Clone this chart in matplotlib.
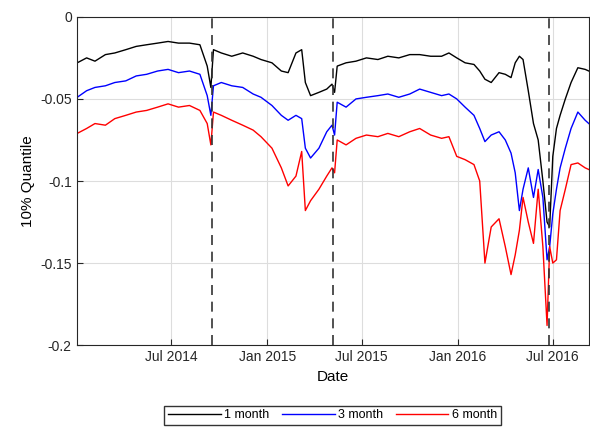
import numpy as np
import pandas as pd
import matplotlib; matplotlib.use('Agg')
import matplotlib.pyplot as plt
import matplotlib.dates as mdates

plt.rcParams.update({'font.family': 'Liberation Sans', 'font.size': 10})

dates = pd.to_datetime([
    '2014-01-02', '2014-01-20', '2014-02-05', '2014-02-25', '2014-03-15', '2014-04-05', '2014-04-25',
    '2014-05-15', '2014-06-05', '2014-06-25', '2014-07-15', '2014-08-05', '2014-08-25', '2014-09-08',
    '2014-09-15', '2014-09-20', '2014-10-05', '2014-10-25', '2014-11-15', '2014-12-05', '2014-12-20',
    '2015-01-10', '2015-01-28', '2015-02-10', '2015-02-25', '2015-03-08', '2015-03-15', '2015-03-25',
    '2015-04-10', '2015-04-25', '2015-05-05', '2015-05-10', '2015-05-15', '2015-06-01', '2015-06-20',
    '2015-07-10', '2015-08-01', '2015-08-20', '2015-09-10', '2015-10-01', '2015-10-20', '2015-11-10',
    '2015-12-01', '2015-12-15', '2015-12-30', '2016-01-15', '2016-02-01', '2016-02-12', '2016-02-22',
    '2016-03-05', '2016-03-20', '2016-04-01', '2016-04-12', '2016-04-20', '2016-04-28', '2016-05-05',
    '2016-05-15', '2016-05-25', '2016-06-03', '2016-06-12', '2016-06-20', '2016-06-25', '2016-07-01',
    '2016-07-08', '2016-07-15', '2016-07-25', '2016-08-05', '2016-08-18', '2016-09-01', '2016-09-08'])

q1m = [-.028, -.025, -.027, -.023, -.022, -.020, -.018, -.017, -.016, -.015, -.016, -.016, -.017, -.030,
       -.043, -.020, -.022, -.024, -.022, -.024, -.026, -.028, -.033, -.034, -.022, -.020, -.040, -.048,
       -.046, -.044, -.041, -.046, -.030, -.028, -.027, -.025, -.026, -.024, -.025, -.023, -.023, -.024,
       -.024, -.022, -.025, -.028, -.029, -.033, -.038, -.040, -.034, -.035, -.037, -.028, -.024, -.026,
       -.045, -.065, -.075, -.100, -.125, -.128, -.085, -.068, -.060, -.050, -.040, -.031, -.032, -.033]
q3m = [-.049, -.045, -.043, -.042, -.040, -.039, -.036, -.035, -.033, -.032, -.034, -.033, -.035, -.048,
       -.060, -.042, -.040, -.042, -.043, -.047, -.049, -.054, -.060, -.063, -.060, -.062, -.080, -.086,
       -.080, -.070, -.066, -.072, -.052, -.055, -.050, -.049, -.048, -.047, -.049, -.047, -.044, -.046,
       -.048, -.047, -.050, -.055, -.060, -.068, -.076, -.072, -.070, -.075, -.083, -.095, -.118, -.105,
       -.092, -.110, -.093, -.110, -.148, -.140, -.120, -.105, -.092, -.080, -.068, -.058, -.063, -.065]
q6m = [-.071, -.068, -.065, -.066, -.062, -.060, -.058, -.057, -.055, -.053, -.055, -.054, -.057, -.065,
       -.078, -.058, -.060, -.063, -.066, -.069, -.073, -.080, -.092, -.103, -.097, -.082, -.118, -.112,
       -.105, -.097, -.092, -.095, -.075, -.078, -.074, -.072, -.073, -.071, -.073, -.070, -.068, -.072,
       -.074, -.073, -.085, -.087, -.090, -.100, -.150, -.128, -.123, -.140, -.157, -.145, -.130, -.110,
       -.125, -.138, -.105, -.140, -.188, -.140, -.150, -.148, -.118, -.105, -.090, -.089, -.092, -.093]
events = pd.to_datetime(['2014-09-18', '2015-05-07', '2016-06-23'])

fig = plt.figure(figsize=(5.9, 4.32), dpi=100)
ax = fig.add_axes([0.13, 0.201, 0.868, 0.76])
ax.plot(dates, q1m, color='black', lw=1, label='1 month')
ax.plot(dates, q3m, color='blue', lw=1, label='3 month')
ax.plot(dates, q6m, color='red', lw=1, label='6 month')
for d in events:
    ax.axvline(d, color='#333333', ls=(0, (6, 4)), lw=1.2)

ax.set_xlim(pd.Timestamp('2014-01-01'), pd.Timestamp('2016-09-08'))
ax.set_ylim(-0.2, 0)
ax.set_yticks([-0.2, -0.15, -0.1, -0.05, 0])
ax.set_yticklabels(['-0.2', '-0.15', '-0.1', '-0.05', '0'])
ax.xaxis.set_major_locator(mdates.MonthLocator(bymonth=[1, 7]))
ax.xaxis.set_major_formatter(mdates.DateFormatter('%b %Y'))
ax.set_xticks([t for t in ax.get_xticks() if t > mdates.date2num(pd.Timestamp('2014-02-01'))])
ax.grid(True, color='#dddddd', lw=0.8)
ax.tick_params(direction='in', length=4, colors='#262626')
for s in ax.spines.values():
    s.set_color('#262626')
ax.set_xlabel('Date', fontsize=11)
ax.set_ylabel('10% Quantile', fontsize=11)
ax.legend(loc='upper center', bbox_to_anchor=(0.5, -0.165), ncol=3, fontsize=9,
          frameon=True, fancybox=False, edgecolor='black', handlelength=4.2,
          borderpad=0.3, columnspacing=1.0, handletextpad=0.3)
fig.savefig('out.png', dpi=100)
